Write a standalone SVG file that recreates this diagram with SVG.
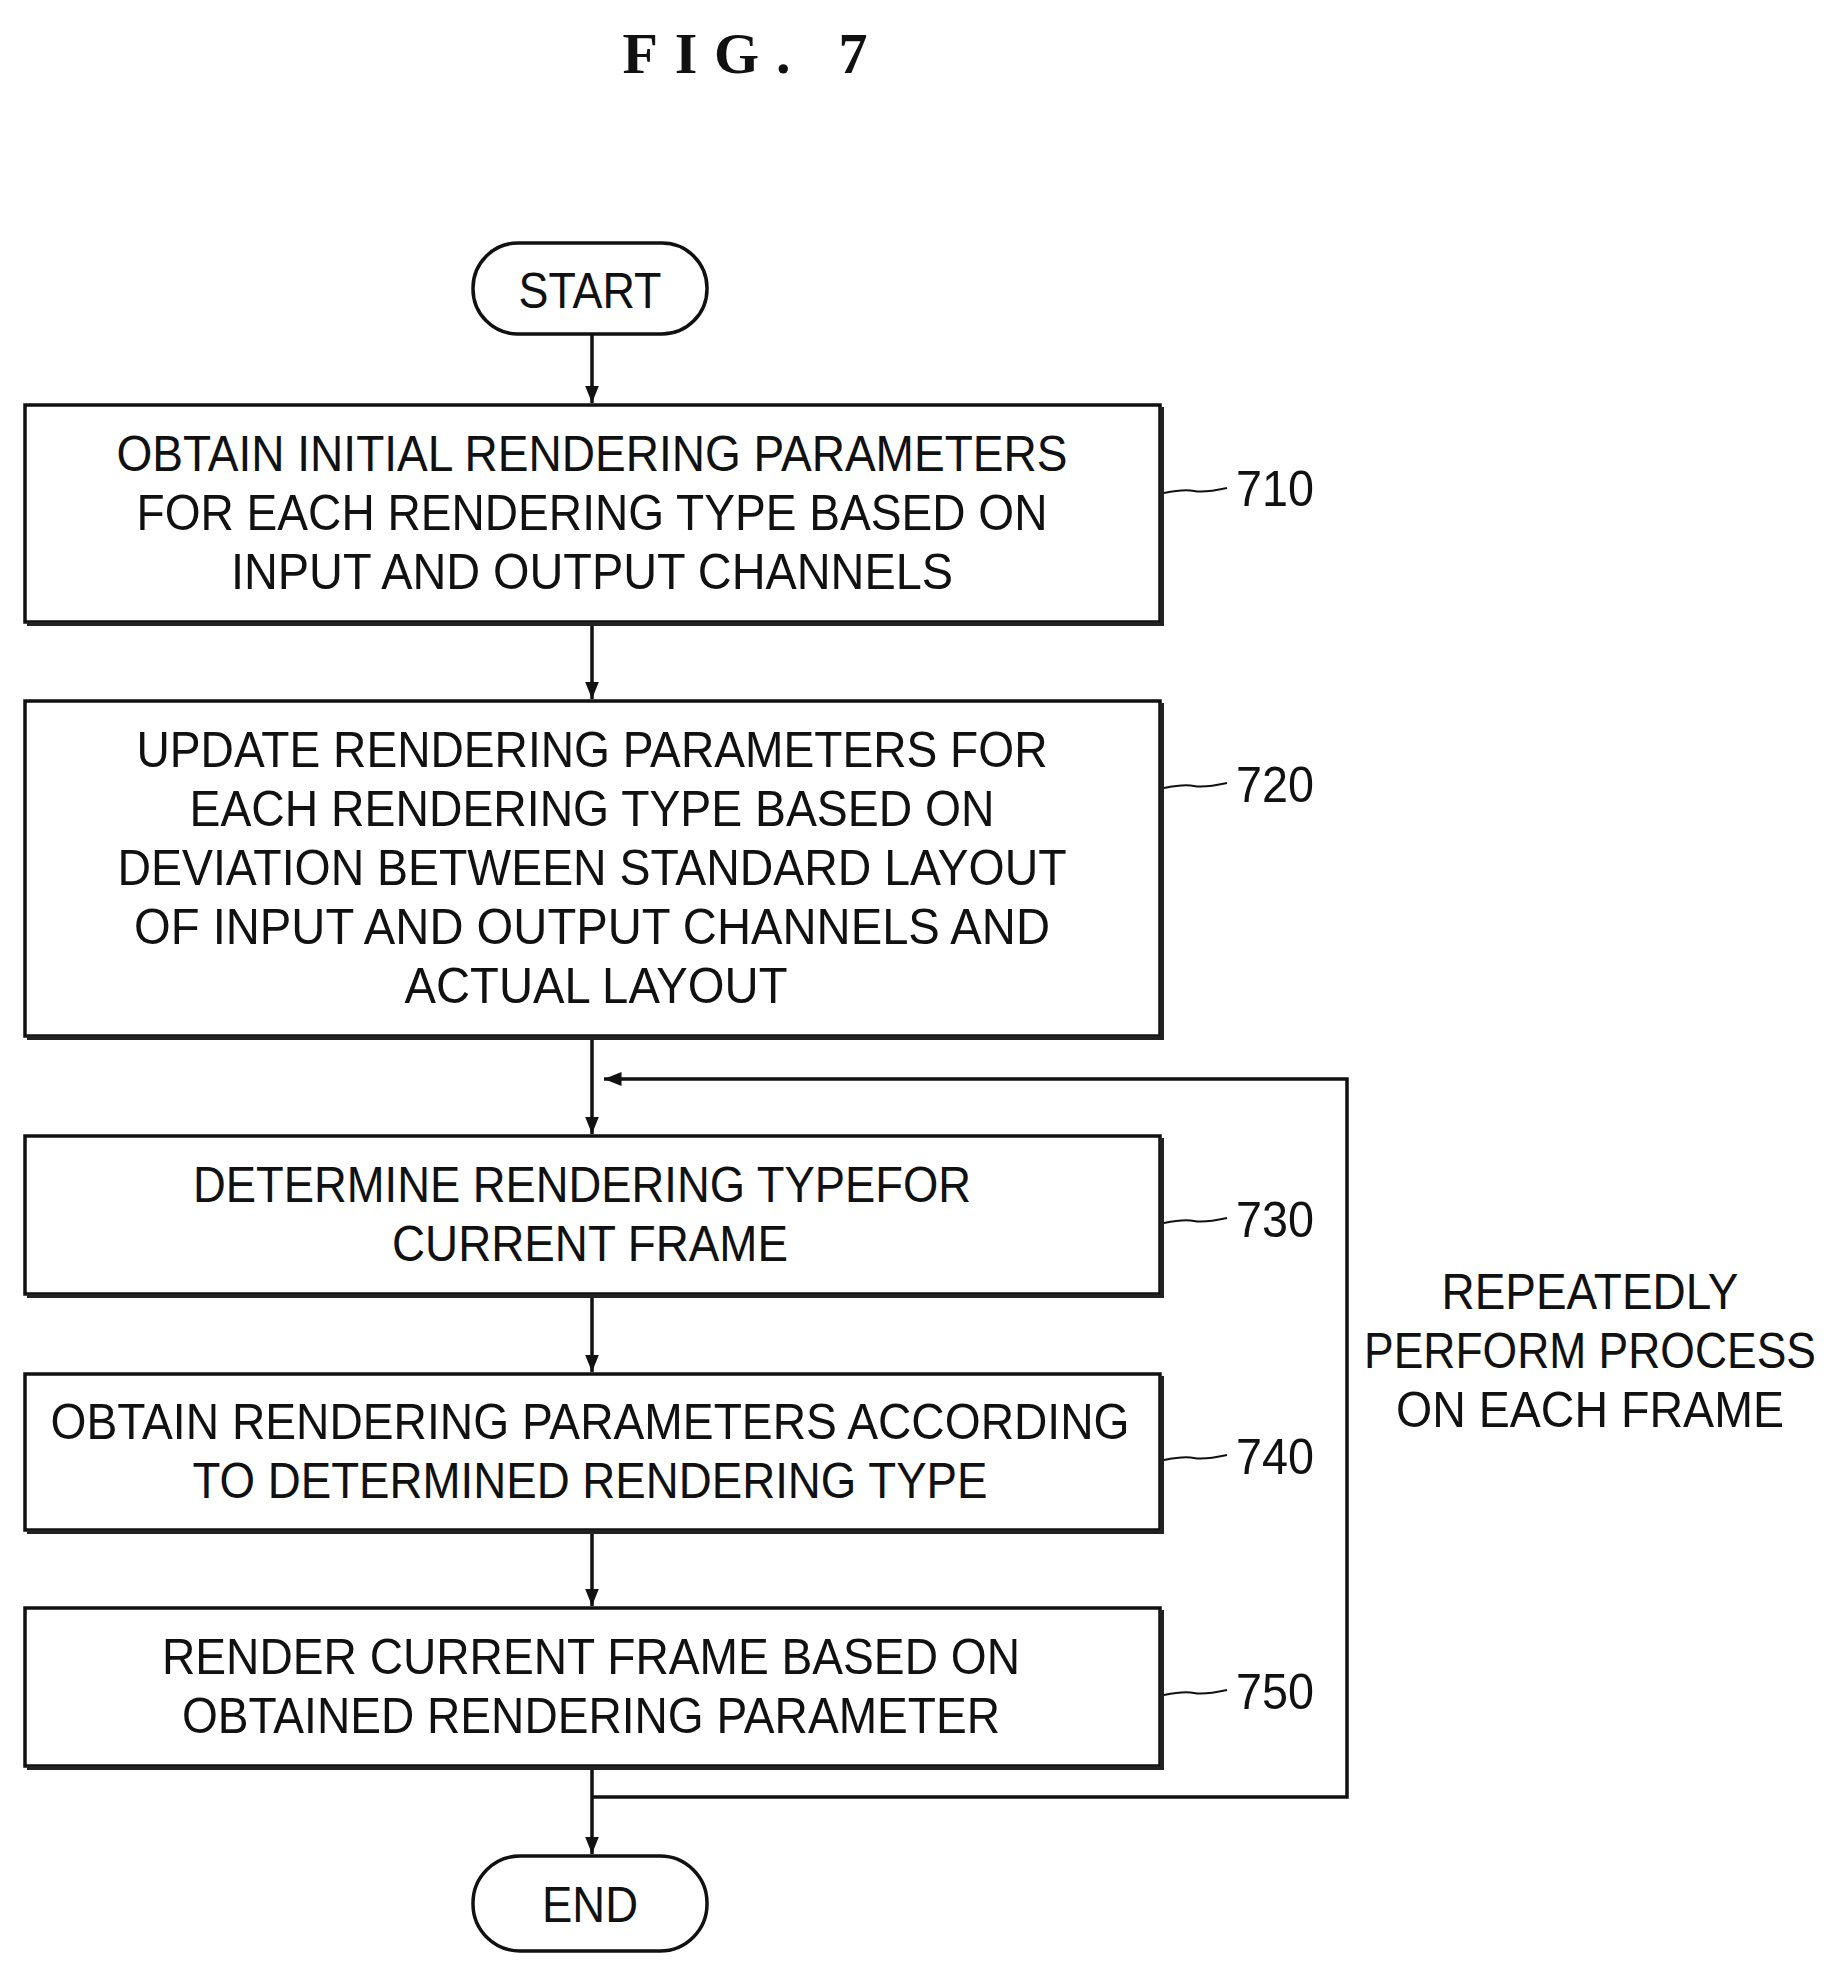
<svg xmlns="http://www.w3.org/2000/svg" width="1845" height="1976" viewBox="0 0 1845 1976">
<style>
text{font-family:"Liberation Sans",Arial,sans-serif;font-size:50px;fill:#111;text-anchor:middle}
.box{fill:#fff;stroke:#111;stroke-width:3.5}
.sh{fill:none;stroke:#222;stroke-width:4}
.c{fill:none;stroke:#111;stroke-width:3.5}
.ld{fill:none;stroke:#111;stroke-width:2}
</style>
<defs>
<marker id="a" viewBox="0 0 10 10" refX="10" refY="5" markerWidth="5" markerHeight="5" orient="auto"><path d="M0,1 L10,5 L0,9 Z" fill="#111"/></marker>
</defs>
<rect width="1845" height="1976" fill="#fff"/>
<text x="745" y="73" textLength="245" lengthAdjust="spacing" style="font-family:'Liberation Serif',serif;font-weight:bold;font-size:58px">FIG.  7</text>
<g id="connectors">
<path class="c" d="M592,334 V403" marker-end="url(#a)"/>
<path class="c" d="M592,622 V699" marker-end="url(#a)"/>
<path class="c" d="M592,1036 V1134" marker-end="url(#a)"/>
<path class="c" d="M592,1294 V1372" marker-end="url(#a)"/>
<path class="c" d="M592,1530 V1606" marker-end="url(#a)"/>
<path class="c" d="M592,1766 V1854" marker-end="url(#a)"/>
<path class="c" d="M592,1797 H1347 V1079 H604" marker-end="url(#a)"/>
</g>
<g id="start">
<rect x="473" y="243" width="234" height="91" rx="45" class="box"/>
<text x="590" y="308" textLength="143" lengthAdjust="spacingAndGlyphs">START</text>
</g>
<g id="n710">
<rect x="25" y="405" width="1135" height="217" class="box"/>
<path class="sh" d="M27,624 H1162 V407"/>
<text x="592" y="471" textLength="951" lengthAdjust="spacingAndGlyphs">OBTAIN INITIAL RENDERING PARAMETERS</text>
<text x="592" y="530" textLength="911" lengthAdjust="spacingAndGlyphs">FOR EACH RENDERING TYPE BASED ON</text>
<text x="592" y="589" textLength="722" lengthAdjust="spacingAndGlyphs">INPUT AND OUTPUT CHANNELS</text>
<path class="ld" d="M1164,493 q20,-4 30,-2 t33,-3"/>
<text x="1275" y="506" textLength="78" lengthAdjust="spacingAndGlyphs">710</text>
</g>
<g id="n720">
<rect x="25" y="701" width="1135" height="335" class="box"/>
<path class="sh" d="M27,1038 H1162 V703"/>
<text x="592" y="767" textLength="911" lengthAdjust="spacingAndGlyphs">UPDATE RENDERING PARAMETERS FOR</text>
<text x="592" y="826" textLength="805" lengthAdjust="spacingAndGlyphs">EACH RENDERING TYPE BASED ON</text>
<text x="592" y="885" textLength="949" lengthAdjust="spacingAndGlyphs">DEVIATION BETWEEN STANDARD LAYOUT</text>
<text x="592" y="944" textLength="916" lengthAdjust="spacingAndGlyphs">OF INPUT AND OUTPUT CHANNELS AND</text>
<text x="596" y="1003" textLength="383" lengthAdjust="spacingAndGlyphs">ACTUAL LAYOUT</text>
<path class="ld" d="M1164,788 q20,-4 30,-2 t33,-3"/>
<text x="1275" y="802" textLength="78" lengthAdjust="spacingAndGlyphs">720</text>
</g>
<g id="n730">
<rect x="25" y="1136" width="1135" height="158" class="box"/>
<path class="sh" d="M27,1296 H1162 V1138"/>
<text x="582" y="1202" textLength="778" lengthAdjust="spacingAndGlyphs">DETERMINE RENDERING TYPEFOR</text>
<text x="590" y="1261" textLength="396" lengthAdjust="spacingAndGlyphs">CURRENT FRAME</text>
<path class="ld" d="M1164,1223 q20,-4 30,-2 t33,-3"/>
<text x="1275" y="1237" textLength="78" lengthAdjust="spacingAndGlyphs">730</text>
</g>
<g id="n740">
<rect x="25" y="1374" width="1135" height="156" class="box"/>
<path class="sh" d="M27,1532 H1162 V1376"/>
<text x="590" y="1439" textLength="1079" lengthAdjust="spacingAndGlyphs">OBTAIN RENDERING PARAMETERS ACCORDING</text>
<text x="590" y="1498" textLength="795" lengthAdjust="spacingAndGlyphs">TO DETERMINED RENDERING TYPE</text>
<path class="ld" d="M1164,1460 q20,-4 30,-2 t33,-3"/>
<text x="1275" y="1474" textLength="78" lengthAdjust="spacingAndGlyphs">740</text>
</g>
<g id="n750">
<rect x="25" y="1608" width="1135" height="158" class="box"/>
<path class="sh" d="M27,1768 H1162 V1610"/>
<text x="591" y="1674" textLength="858" lengthAdjust="spacingAndGlyphs">RENDER CURRENT FRAME BASED ON</text>
<text x="591" y="1733" textLength="818" lengthAdjust="spacingAndGlyphs">OBTAINED RENDERING PARAMETER</text>
<path class="ld" d="M1164,1695 q20,-4 30,-2 t33,-3"/>
<text x="1275" y="1709" textLength="78" lengthAdjust="spacingAndGlyphs">750</text>
</g>
<g id="end">
<rect x="473" y="1856" width="234" height="95" rx="47" class="box"/>
<text x="590" y="1922" textLength="96" lengthAdjust="spacingAndGlyphs">END</text>
</g>
<g id="loop-label">
<text x="1590" y="1309" textLength="297" lengthAdjust="spacingAndGlyphs">REPEATEDLY</text>
<text x="1590" y="1368" textLength="452" lengthAdjust="spacingAndGlyphs">PERFORM PROCESS</text>
<text x="1590" y="1427" textLength="388" lengthAdjust="spacingAndGlyphs">ON EACH FRAME</text>
</g>
</svg>
